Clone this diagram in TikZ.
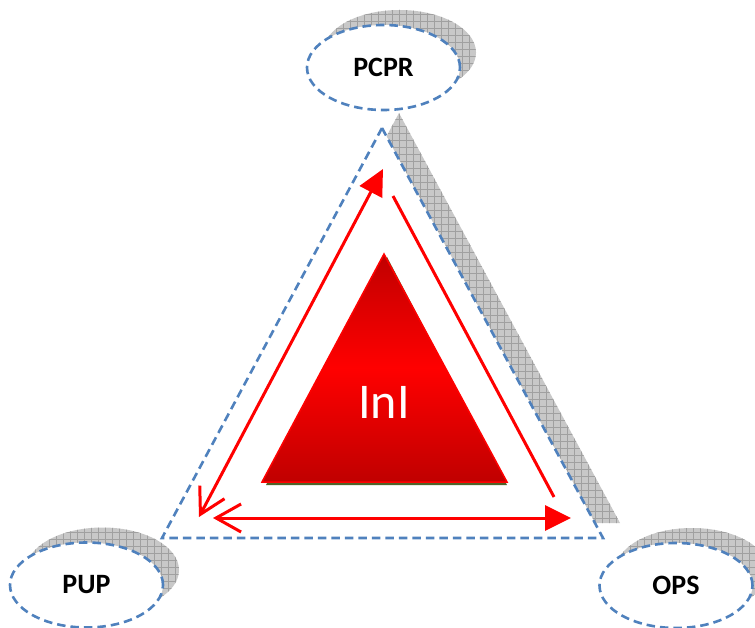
\documentclass[tikz,border=0pt]{standalone}
\usepackage{fontspec}
\setmainfont{Carlito}
\usetikzlibrary{arrows.meta,shapes.geometric}
\definecolor{dashblue}{HTML}{4F81BD}
\definecolor{shadegray}{HTML}{C8C8C8}
\definecolor{gridgray}{HTML}{A0A0A0}
\definecolor{deepred}{HTML}{C00000}
\definecolor{olivegreen}{HTML}{4F6228}

% gray cross-hatched drop shadow of a closed path
\newcommand\hatchshadow[1]{%
  \fill[shadegray] #1;
  \begin{scope}
    \clip #1;
    \draw[gridgray, line width=0.45pt] (0,0) grid[step=7pt] (755,628);
  \end{scope}}

\begin{document}
\begin{tikzpicture}[x=1pt,y=-1pt,
  outline/.style={draw=dashblue, line width=2.6pt, dash pattern=on 8.5pt off 5pt, fill=white},
  role/.style={ellipse, outline, minimum width=153pt, minimum height=85pt, inner sep=0pt,
    font=\bfseries\fontsize{28}{32}\selectfont},
  flow/.style={draw=red, line width=3pt},
  tips/.style={{Straight Barb[length=25pt, width=28pt]}-{Triangle[length=26pt, width=25pt]}}
]
\useasboundingbox (0,0) rectangle (755,628);

% shadows
\hatchshadow{(399,113) -- (620,523) -- (179,523) -- cycle}
\hatchshadow{(399.5,52.5) ellipse [x radius=76.5, y radius=42.5]}
\hatchshadow{(102.5,570) ellipse [x radius=76.5, y radius=42.5]}
\hatchshadow{(692,570.5) ellipse [x radius=76.5, y radius=42.5]}

% outer dashed triangle
\coordinate (apex) at (382,128);
\coordinate (left) at (162,538);
\coordinate (right) at (603,538);
\path[outline] (apex) -- (right) -- (left) -- cycle;

% the three parties
\node[role] (pcpr) at (383.5,67.5) {PCPR};
\node[role] (pup) at (86.5,585) {PUP};
\node[role] (ops) at (676,585.5) {OPS};

% inner triangle with shadow and gradient
\coordinate (itop) at (384,254);
\coordinate (ileft) at (262,482);
\coordinate (iright) at (507,482);
\fill[olivegreen] ([shift={(3,3)}]itop) -- ([shift={(0,3)}]iright) -- ([shift={(4,3)}]ileft) -- cycle;
\shade[top color=deepred, bottom color=deepred, middle color=red]
  (itop) -- (iright) -- (ileft) -- cycle;
\draw[red, line width=1.5pt, line join=miter] (itop) -- (iright) -- (ileft) -- cycle;
\node[text=white, font=\fontsize{50}{60}\selectfont, inner sep=0pt] (inl) at (384,402) {InI};

% red flow arrows
\coordinate (a1s) at (199,517);
\coordinate (a1e) at (383,169);
\coordinate (a2s) at (393,196);
\coordinate (a2e) at (554,497);
\coordinate (a3s) at (213,518);
\coordinate (a3e) at (571,518);
\draw[flow, tips] (a1s) -- (a1e);
\draw[flow] (a2s) -- (a2e);
\draw[flow, tips] (a3s) -- (a3e);
\end{tikzpicture}
\end{document}
